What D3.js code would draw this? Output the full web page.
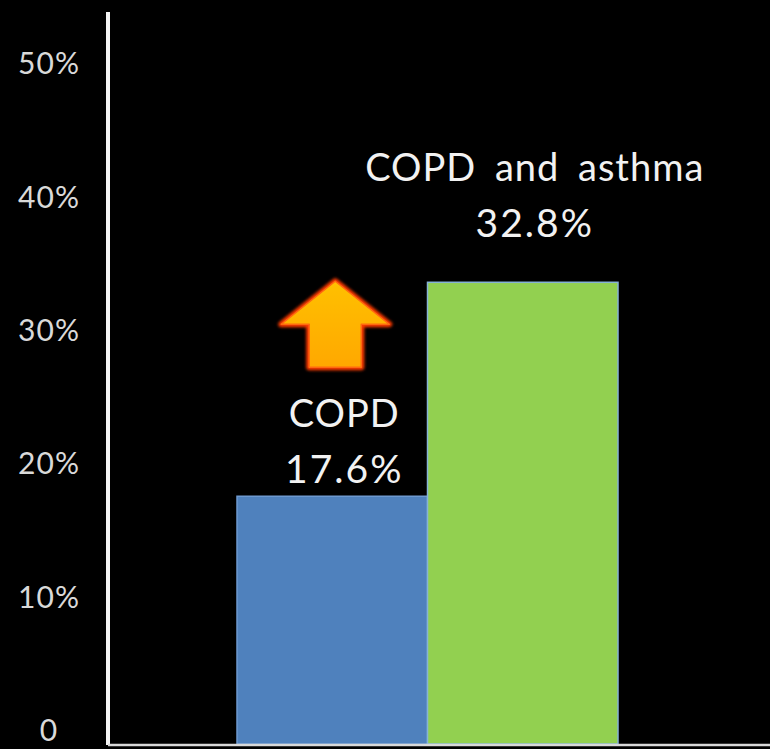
<!DOCTYPE html>
<html>
<head>
<meta charset="utf-8">
<script src="https://cdn.jsdelivr.net/npm/d3@7"></script>
<style>
  html, body { margin: 0; padding: 0; background: #000; }
  svg { display: block; }
</style>
</head>
<body>
<svg id="chart" width="770" height="749"></svg>
<script>
// ---- data ----
const categories = ["COPD", "COPD and asthma"];
const values = [17.6, 32.8];
const valueLabels = ["17.6%", "32.8%"];
const tickValues = [0, 10, 20, 30, 40, 50];
const tickLabels = ["0", "10%", "20%", "30%", "40%", "50%"];
const barColors = ["#4f81bd", "#92d050"];
const barStrokes = ["#6d99cf", "#86b3d6"];

const svg = d3.select("#chart");
svg.append("rect").attr("width", 770).attr("height", 749).attr("fill", "#000");

// scales
const x = d3.scaleBand().domain(categories).range([237, 618]).paddingInner(0).paddingOuter(0);
const y = d3.scaleLinear().domain([0, 52]).range([744, 12]);
const yTick = d3.scaleLinear().domain([0, 50]).range([731, 64]);
const axisX = 108;

// defs: arrow glow + gradient
const defs = svg.append("defs");
const grad = defs.append("linearGradient").attr("id", "arrowGrad")
  .attr("x1", 0).attr("y1", 0).attr("x2", 0).attr("y2", 1);
grad.append("stop").attr("offset", "0%").attr("stop-color", "#ffc000");
grad.append("stop").attr("offset", "100%").attr("stop-color", "#ffa800");
const glow = defs.append("filter").attr("id", "glow")
  .attr("x", "-30%").attr("y", "-30%").attr("width", "160%").attr("height", "160%");
glow.append("feGaussianBlur").attr("stdDeviation", 1.6);

// bars
svg.selectAll("rect.bar").data(values).join("rect")
  .attr("class", "bar")
  .attr("x", (d, i) => x(categories[i]))
  .attr("y", d => y(d))
  .attr("width", x.bandwidth())
  .attr("height", d => y(0) - y(d))
  .attr("fill", (d, i) => barColors[i])
  .attr("stroke", (d, i) => barStrokes[i])
  .attr("stroke-width", 1.5);

// axes lines
svg.append("line")
  .attr("x1", axisX).attr("x2", axisX)
  .attr("y1", y.range()[1]).attr("y2", y(0) + 1)
  .attr("stroke", "#f4f4f4").attr("stroke-width", 4);
svg.append("line")
  .attr("x1", axisX).attr("x2", 770)
  .attr("y1", y(0) + 1).attr("y2", y(0) + 1)
  .attr("stroke", "#d8d8d8").attr("stroke-width", 2.5);

// tick labels via d3 axis
const yAxis = d3.axisLeft(yTick)
  .tickValues(tickValues)
  .tickFormat((d, i) => tickLabels[i])
  .tickSize(0);
const gAxis = svg.append("g").attr("transform", `translate(${axisX},0)`).call(yAxis);
gAxis.select(".domain").remove();
gAxis.selectAll("text")
  .attr("x", -59)
  .attr("text-anchor", "middle")
  .attr("fill", "#d9d9d9")
  .style("font-family", "Lato, 'Open Sans', sans-serif")
  .style("font-size", "30px")
  .style("letter-spacing", "1px");

// value labels
const labelFont = "Lato, 'Open Sans', sans-serif";
const cx0 = x(categories[0]) + x.bandwidth() / 2 + 12;
const cx1 = x(categories[1]) + x.bandwidth() / 2 + 12;
const labels = [
  { x: cx0, y1: y(values[0]) - 69, y2: y(values[0]) - 13 },
  { x: cx1, y1: y(values[1]) - 101, y2: y(values[1]) - 45 }
];
labels.forEach((l, i) => {
  svg.append("text").attr("x", l.x).attr("y", l.y1)
    .attr("text-anchor", "middle").attr("fill", "#f2f2f2")
    .style("font-family", labelFont).style("font-size", "38px")
    .style("letter-spacing", "1px").style("word-spacing", "8px")
    .text(categories[i]);
  svg.append("text").attr("x", l.x).attr("y", l.y2)
    .attr("text-anchor", "middle").attr("fill", "#f2f2f2")
    .style("font-family", labelFont).style("font-size", "39px")
    .style("letter-spacing", "2px")
    .text(valueLabels[i]);
});

// up arrow annotation above COPD label
const ax = x(categories[0]) + x.bandwidth() / 2 + 3;
const aBottom = y(values[0]) - 129;
const aTip = aBottom - 86;
const headY = aBottom - 43;
const headHalf = 54, stemHalf = 26;
const arrowPts = [
  [ax, aTip], [ax + headHalf, headY], [ax + stemHalf, headY], [ax + stemHalf, aBottom],
  [ax - stemHalf, aBottom], [ax - stemHalf, headY], [ax - headHalf, headY]
];
const arrowPath = d3.line()(arrowPts) + "Z";
svg.append("path").attr("d", arrowPath)
  .attr("fill", "none").attr("stroke", "#ff3a00").attr("stroke-width", 6)
  .attr("stroke-linejoin", "round").attr("filter", "url(#glow)");
svg.append("path").attr("d", arrowPath)
  .attr("fill", "url(#arrowGrad)").attr("stroke", "#ff6a10").attr("stroke-width", 1.5)
  .attr("stroke-linejoin", "round");
</script>
</body>
</html>
